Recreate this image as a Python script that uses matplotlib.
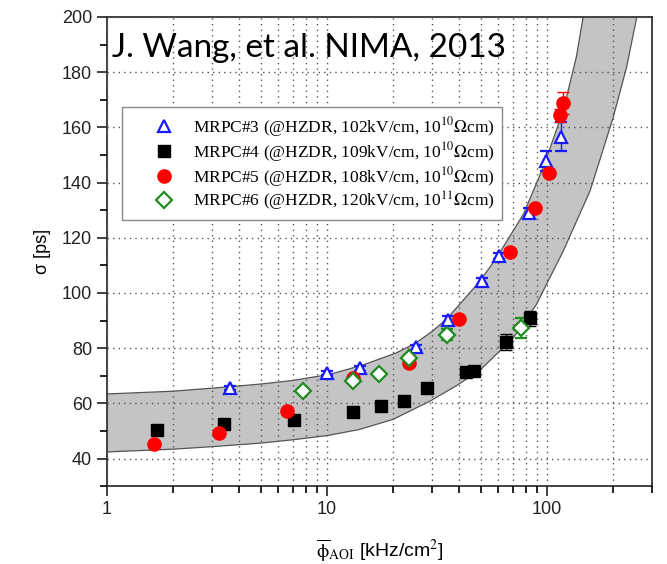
import matplotlib
matplotlib.use('Agg')
import matplotlib.pyplot as plt
from matplotlib.ticker import LogLocator, FixedLocator, MultipleLocator, NullFormatter, FixedFormatter

# data
x3 = [3.62, 9.97, 14.2, 25.4, 35.5, 50.5, 60.6, 82.9, 98.8, 115.6]
y3 = [65.5, 70.9, 72.7, 80.3, 90.3, 104.3, 113.3, 129.1, 147.9, 156.6]
e3 = [0.8, 0.8, 0.8, 1.0, 1.2, 1.0, 1.0, 1.5, 3.6, 5.2]

x4 = [1.70, 3.40, 7.10, 13.1, 17.7, 22.4, 28.5, 42.7, 46.5, 65.0, 83.9]
y4 = [50.3, 52.6, 54.0, 56.7, 59.1, 60.9, 65.5, 71.2, 71.8, 82.2, 90.9]
e4 = [0.8, 0.8, 0.8, 0.8, 0.8, 0.8, 0.8, 0.8, 0.8, 2.9, 2.7]

x5 = [1.64, 3.25, 6.56, 13.1, 23.7, 39.9, 67.8, 88.2, 102.0, 114.5, 118.7]
y5 = [45.2, 49.3, 57.3, 69.3, 74.8, 90.7, 114.9, 130.9, 143.3, 164.3, 168.9]
e5 = [0.8, 0.8, 0.8, 0.8, 0.8, 0.8, 1.0, 1.0, 1.0, 2.4, 4.0]

x6 = [7.76, 13.1, 17.2, 23.7, 35.3, 76.5]
y6 = [64.5, 68.1, 70.8, 76.4, 84.9, 87.3]
e6 = [0.8, 0.8, 0.8, 0.8, 2.0, 3.6]

# band edges
up_x = [1, 2, 3.6, 5, 7, 10.3, 14.6, 20.7, 25.4, 30, 35, 49.6, 59, 78.1, 96.2, 118.6, 136, 146]
up_y = [63.4, 64.4, 66.0, 67.0, 68.3, 70.5, 73.9, 78.3, 81.9, 86.0, 90.5, 104.3, 112.7, 128.5, 145.5, 166.1, 185.5, 200]
lo_x = [1, 2, 3, 5, 7, 10, 14, 20, 29.4, 38.6, 49.6, 70.1, 89.4, 118.6, 157, 200, 230, 256]
lo_y = [42.4, 43.4, 44.3, 45.6, 46.8, 48.3, 50.5, 54.2, 60.8, 66.3, 72.0, 83.6, 95.7, 115.2, 137, 163.6, 181.8, 200]

labels = [r'MRPC#3 (@HZDR, 102kV/cm, 10$^{10}\Omega$cm)',
          r'MRPC#4 (@HZDR, 109kV/cm, 10$^{10}\Omega$cm)',
          r'MRPC#5 (@HZDR, 108kV/cm, 10$^{10}\Omega$cm)',
          r'MRPC#6 (@HZDR, 120kV/cm, 10$^{11}\Omega$cm)']

plt.rcParams['mathtext.fontset'] = 'stix'

fig = plt.figure(figsize=(6.67, 5.64), dpi=100)
ax = fig.add_axes([0.160, 0.138, 0.8175, 0.832])

ax.fill(up_x + lo_x[::-1], up_y + lo_y[::-1], facecolor='#c4c4c4', edgecolor='none', zorder=1)
ax.plot(up_x, up_y, color='#555555', lw=0.9, zorder=2)
ax.plot(lo_x, lo_y, color='#555555', lw=0.9, zorder=2)

c3 = ax.errorbar(x3, y3, yerr=e3, fmt='^', ms=9, mfc='white', mec='#1a1aff', mew=1.6,
                 ecolor='#1a1aff', elinewidth=1, capsize=4, zorder=4)
c4 = ax.errorbar(x4, y4, yerr=e4, fmt='s', ms=8.5, mfc='black', mec='black',
                 ecolor='black', elinewidth=1, capsize=4, zorder=4)
c5 = ax.errorbar(x5, y5, yerr=e5, fmt='o', ms=9.5, mfc='#ff0000', mec='#ff0000',
                 ecolor='#ff0000', elinewidth=1, capsize=4, zorder=4)
c6 = ax.errorbar(x6, y6, yerr=e6, fmt='D', ms=8, mfc='white', mec='#1e8c1e', mew=1.6,
                 ecolor='#1e8c1e', elinewidth=1, capsize=4, zorder=4)

ax.set_xscale('log')
ax.set_xlim(1, 300)
ax.set_ylim(30, 200)

ax.xaxis.set_major_locator(FixedLocator([1, 10, 100]))
ax.xaxis.set_major_formatter(FixedFormatter(['1', '10', '100']))
ax.xaxis.set_minor_locator(LogLocator(base=10, subs=range(2, 10)))
ax.xaxis.set_minor_formatter(NullFormatter())
ax.yaxis.set_major_locator(MultipleLocator(20))
ax.yaxis.set_minor_locator(MultipleLocator(10))

ax.tick_params(which='major', direction='out', length=7, width=1.2, labelsize=13,
               colors='#222222', top=False, right=False)
ax.tick_params(which='minor', direction='out', length=5, width=1.2, top=False, right=False)
for lab in ax.get_xticklabels() + ax.get_yticklabels():
    lab.set_fontfamily('Liberation Sans')
for s in ax.spines.values():
    s.set_linewidth(1.3)
    s.set_color('#333333')

# dotted grid on top of the band, under the markers
ax.set_axisbelow(False)
ax.xaxis.grid(True, which='major', linestyle=(0, (1, 3)), color='#555555', linewidth=1, zorder=3)
ax.xaxis.grid(True, which='minor', linestyle=(0, (1, 3)), color='#555555', linewidth=1, zorder=3)
ax.yaxis.grid(True, which='major', linestyle=(0, (1, 3)), color='#555555', linewidth=1, zorder=3)

ax.set_ylabel('σ [ps]', fontsize=13, family='Liberation Sans', labelpad=8)
ax.set_xlabel(r'$\overline{\mathrm{\phi}}_{\mathrm{AOI}}$ [kHz/cm$^2$]', fontsize=14,
              family='Liberation Sans', labelpad=14)

ax.text(0.009, 0.915, 'J. Wang, et al. NIMA, 2013', transform=ax.transAxes,
        fontsize=24, family='Lato', va='baseline', ha='left', zorder=6)

leg = ax.legend([c3[0], c4[0], c5[0], c6[0]], labels,
                loc='upper left', bbox_to_anchor=(0.0275, 0.808), borderaxespad=0,
                prop={'family': 'Liberation Serif', 'size': 12.5},
                frameon=True, fancybox=False, edgecolor='#888888', framealpha=1,
                labelspacing=0.05, handletextpad=-0.35, borderpad=0.45, handlelength=4.0)
leg.get_frame().set_linewidth(1)
leg.set_zorder(5)

fig.savefig('out.png', dpi=100)
